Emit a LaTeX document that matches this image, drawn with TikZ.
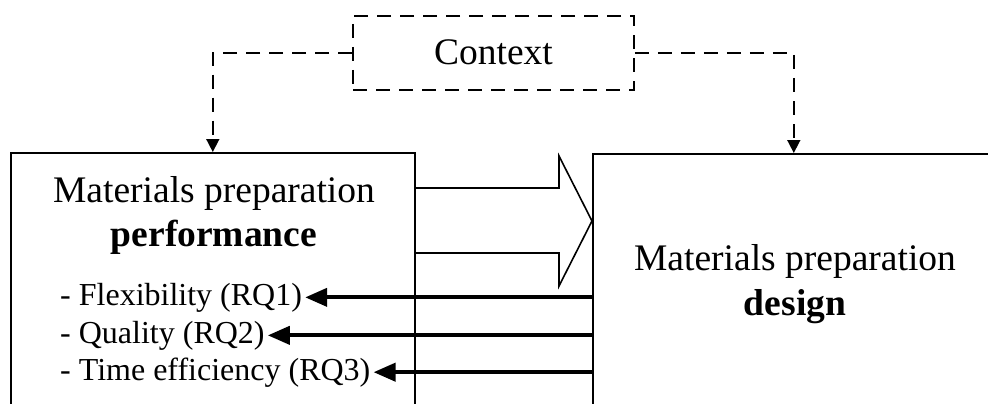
\documentclass[tikz,border=0pt]{standalone}
\usepackage{fontspec}
\setmainfont{Liberation Serif}
\usetikzlibrary{arrows.meta}
\begin{document}
\begin{tikzpicture}[x=1pt,y=-1pt,
  box/.style={draw, line width=1.6pt, inner sep=0pt, anchor=north west, minimum height=300pt},
  ctxbox/.style={draw, line width=1.6pt, dash pattern=on 14pt off 9pt, minimum width=281pt, minimum height=74pt, inner sep=0pt},
  big/.style={font=\fontsize{37.5}{44}\selectfont, inner sep=0pt, anchor=base},
  itemtxt/.style={font=\fontsize{32}{37}\selectfont, inner ysep=0pt, inner xsep=3pt, anchor=base west},
  ctxarrow/.style={line width=1.6pt, dash pattern=on 14pt off 9pt, -{Triangle[length=13pt,width=13pt]}},
  fbarrow/.style={line width=4pt, -{Triangle[length=22pt,width=18pt]}},
  blockarrow/.style={line width=1.6pt, line join=miter}]
\useasboundingbox (0,0) rectangle (988,404);
\clip (0,0) rectangle (988,404);
% boxes
\node[box, minimum width=404pt] (lbox) at (10,152) {};
\node[box, minimum width=402pt] (rbox) at (592,153) {};
\node[ctxbox] (ctx) at (493.5,53) {};
% texts
\node[big] (ctxt) at (493.5,65) {Context};
\node[big] (l1) at (214,202) {Materials preparation};
\node[big] (l2) at (214,246) {\bfseries performance};
\node[big] (r1) at (795,270) {Materials preparation};
\node[big] (r2) at (795,315) {\bfseries design};
\node[itemtxt] (i1) at (57,305) {- Flexibility (RQ1)};
\node[itemtxt] (i2) at (57,343) {- Quality (RQ2)};
\node[itemtxt] (i3) at (57,380) {- Time efficiency (RQ3)};
% context connectors
\draw[ctxarrow] (ctx.west) -| (lbox.north);
\draw[ctxarrow] (ctx.east) -| (rbox.north);
% block arrow
\draw[blockarrow] (414,188) -- (559,188) -- (559,156) -- (rbox.west |- 0,221) -- (559,286) -- (559,253) -- (414,253);
% feedback arrows
\draw[fbarrow] (i1.east -| rbox.west) -- (i1.east);
\draw[fbarrow] (i2.east -| rbox.west) -- (i2.east);
\draw[fbarrow] (i3.east -| rbox.west) -- (i3.east);
\end{tikzpicture}
\end{document}
